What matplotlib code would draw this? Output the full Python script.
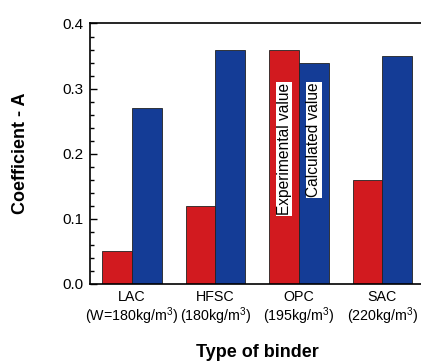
import matplotlib.pyplot as plt
import numpy as np
from matplotlib.ticker import MultipleLocator, FormatStrFormatter

plt.rcParams['font.family'] = ['Liberation Sans', 'DejaVu Sans']
plt.rcParams['mathtext.default'] = 'regular'

# data
binders = ['LAC\n(W=180kg/m$^3$)', 'HFSC\n(180kg/m$^3$)', 'OPC\n(195kg/m$^3$)', 'SAC\n(220kg/m$^3$)']
experimental = [0.05, 0.12, 0.36, 0.16]
calculated = [0.27, 0.36, 0.34, 0.35]

x = np.arange(len(binders))
w = 0.354

fig = plt.figure(figsize=(4.21, 3.62), dpi=100)
ax = fig.add_axes([0.2145, 0.2155, 0.793, 0.7196])

ax.bar(x - w / 2, experimental, w, color='#D21A1F', edgecolor='#222222', linewidth=0.6)
ax.bar(x + w / 2, calculated, w, color='#143C96', edgecolor='#222222', linewidth=0.6)

# in-bar legend labels on the OPC pair
ax.text(2 - w / 2, 0.309, 'Experimental value', rotation=90, ha='center', va='top',
        fontsize=11.2, bbox=dict(facecolor='white', edgecolor='none', pad=0.5))
ax.text(2 + w / 2, 0.309, 'Calculated value', rotation=90, ha='center', va='top',
        fontsize=11.2, bbox=dict(facecolor='white', edgecolor='none', pad=0.5))

ax.set_xlim(-0.5, 3.5)
ax.set_ylim(0, 0.4)
ax.set_xticks(x)
ax.set_xticklabels(binders, fontsize=10.3, linespacing=1.15)
ax.tick_params(axis='x', length=0, pad=4)
ax.yaxis.set_major_locator(MultipleLocator(0.1))
ax.yaxis.set_minor_locator(MultipleLocator(0.02))
ax.yaxis.set_major_formatter(FormatStrFormatter('%.1f'))
ax.tick_params(axis='y', which='major', direction='in', length=5, width=1, labelsize=11, pad=5)
ax.tick_params(axis='y', which='minor', direction='in', length=3, width=1)
for s in ax.spines.values():
    s.set_linewidth(1.2)

ax.set_ylabel('Coefficient - A', fontsize=13, fontweight='bold', labelpad=24)
ax.set_xlabel('Type of binder', fontsize=13, fontweight='bold', labelpad=12)

fig.savefig('out.png', dpi=100)
